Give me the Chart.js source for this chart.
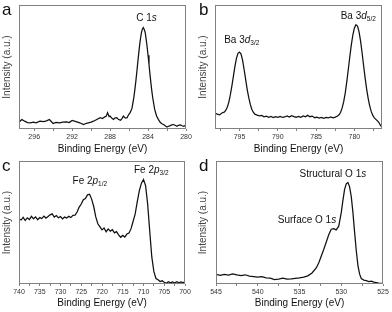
<!DOCTYPE html>
<html><head><meta charset="utf-8">
<script src="https://cdn.jsdelivr.net/npm/chart.js@4/dist/chart.umd.min.js"></script>
<style>
html,body{margin:0;padding:0;background:#fff;width:392px;height:312px;overflow:hidden}
.p{position:absolute;width:196px;height:156px}
.p canvas{display:block}
.lab{position:absolute;font-family:"Liberation Sans",Arial,sans-serif;font-size:17px;color:#111;line-height:1}
</style></head><body>
<div class="p" style="left:0;top:0"><canvas id="ca" width="196" height="156"></canvas></div>
<div class="p" style="left:196px;top:0"><canvas id="cb" width="196" height="156"></canvas></div>
<div class="p" style="left:0;top:156px"><canvas id="cc" width="196" height="156"></canvas></div>
<div class="p" style="left:196px;top:156px"><canvas id="cd" width="196" height="156"></canvas></div>
<div class="lab" style="left:2px;top:1px">a</div>
<div class="lab" style="left:199px;top:1px">b</div>
<div class="lab" style="left:2px;top:157px">c</div>
<div class="lab" style="left:199px;top:157px">d</div>
<script>
// ---- Panel a: C 1s ----
const aEnergy = [297.6,297.3,297.0,296.7,296.4,296.1,295.8,295.4,295.0,294.7,294.4,294.0,293.7,293.3,293.0,292.6,292.3,292.0,291.5,291.2,290.8,290.5,290.3,290.0,289.75,289.4,289.05,288.8,288.6,288.4,288.27,288.1,288.0,287.8,287.64,287.5,287.3,287.1,286.9,286.75,286.6,286.4,286.2,286.06,285.9,285.7,285.5,285.4,285.3,285.2,285.1,285.0,284.9,284.8,284.7,284.6,284.5,284.4,284.3,284.2,284.1,284.0,283.9,283.8,283.7,283.6,283.5,283.3,283.1,282.9,282.7,282.5,282.36,282.2,282.0,281.8,281.65,281.5,281.3,281.1,280.95,280.8,280.6,280.4,280.25,280.1,280.0];
const aIntensity = [5.5,7.7,6.3,5.2,4.9,5.5,5.0,6.3,6.0,6.6,7.7,4.4,5.3,4.9,5.6,5.8,5.2,6.9,5.8,5.0,3.6,4.6,4.9,5.6,6.3,7.7,9.1,8.4,9.6,10.4,13.2,10.0,10.4,8.6,7.7,8.8,9.1,7.6,7.1,8.4,10.4,8.8,9.1,11.5,13.0,16.4,25.3,31.1,37.6,44.8,52.3,59.8,66.8,72.8,77.5,80.5,81.8,80.2,77.8,72.5,66.5,59.5,52.0,44.5,37.2,30.5,24.8,15.8,10.5,7.6,5.2,4.0,3.6,2.6,1.6,2.4,2.7,3.4,3.6,2.8,2.2,3.0,3.3,2.6,2.2,2.8,1.6];
const aTicks = [296,292,288,284,280];

// ---- Panel b: Ba 3d ----
const bEnergy = [798.2,797.9,797.6,797.3,797.0,796.8,796.6,796.4,796.2,796.0,795.8,795.6,795.4,795.2,795.0,794.8,794.6,794.4,794.2,794.0,793.8,793.6,793.4,793.2,793.0,792.7,792.4,792.1,791.8,791.5,791.2,790.9,790.6,790.3,790.0,789.7,789.4,789.1,788.8,788.5,788.2,787.9,787.6,787.3,787.0,786.7,786.4,786.1,785.8,785.5,785.2,784.9,784.6,784.3,784.0,783.7,783.4,783.1,782.8,782.5,782.2,782.0,781.8,781.6,781.4,781.2,781.0,780.8,780.6,780.4,780.2,780.0,779.8,779.6,779.4,779.2,779.0,778.8,778.6,778.4,778.2,778.0,777.8,777.6,777.4,777.2,777.0,776.8,776.6,776.4];
const bIntensity = [12.8,12.0,11.4,12.9,13.6,15.0,17.5,21.5,27.5,34.5,42.5,50.5,57.0,61.0,62.0,60.5,55.5,48.0,40.0,32.0,25.5,20.0,16.0,13.5,12.0,11.2,10.6,10.9,9.8,10.3,9.5,10.1,9.2,9.9,9.4,10.2,9.3,9.7,10.5,9.6,10.8,10.0,9.5,10.2,9.4,10.6,9.8,11.0,9.9,10.4,9.1,9.6,8.8,9.4,8.6,9.3,8.9,9.8,9.0,9.6,10.5,11.5,13.5,17.0,22.0,29.0,38.0,48.0,58.5,68.0,76.0,81.5,84.0,83.0,78.5,71.0,61.5,51.0,41.0,32.0,24.5,18.5,14.0,11.0,9.0,7.8,6.5,5.2,3.0,1.5];
const bTicks = [795,790,785,780];

// ---- Panel c: Fe 2p ----
const cEnergy = [740.0,739.5,739.0,738.5,738.0,737.5,737.0,736.5,736.0,735.5,735.0,734.5,734.0,733.5,733.0,732.5,732.0,731.5,731.0,730.5,730.0,729.5,729.0,728.5,728.0,727.5,727.0,726.5,726.0,725.5,725.0,724.5,724.0,723.5,723.0,722.5,722.0,721.5,721.0,720.5,720.0,719.5,719.0,718.5,718.0,717.5,717.0,716.5,716.0,715.5,715.0,714.5,714.0,713.5,713.0,712.5,712.0,711.5,711.0,710.5,710.0,709.5,709.0,708.5,708.0,707.5,707.0,706.5,706.0,705.5,705.0,704.5,704.0,703.5,703.0,702.5,702.0,701.5,701.0,700.5,700.0];
const cIntensity = [53.0,52.0,54.2,51.6,53.8,52.4,55.0,53.0,54.6,52.2,54.0,53.2,55.2,53.6,54.8,56.2,57.0,54.4,55.6,53.8,54.8,53.0,54.4,53.6,55.0,54.0,55.8,56.0,58.5,62.5,65.0,68.5,69.5,72.5,73.0,69.0,63.0,54.5,49.0,46.5,44.0,45.5,42.5,44.8,43.0,44.2,41.6,42.6,40.0,38.0,39.5,38.2,40.6,41.5,45.0,51.0,57.0,67.0,76.0,82.0,85.0,80.0,65.0,43.0,22.0,10.0,4.5,3.5,2.0,2.6,1.4,0.6,1.8,0.9,1.6,0.8,1.9,1.0,1.7,1.1,1.5];
const cTicks = [740,735,730,725,720,715,710,705,700];

// ---- Panel d: O 1s ----
const dEnergy = [545.0,544.5,544.0,543.5,543.0,542.5,542.0,541.5,541.0,540.5,540.0,539.5,539.0,538.5,538.0,537.5,537.0,536.5,536.0,535.5,535.0,534.5,534.0,533.5,533.0,532.7,532.4,532.1,531.8,531.5,531.2,530.9,530.6,530.3,530.0,529.8,529.6,529.4,529.2,529.0,528.8,528.6,528.4,528.2,528.0,527.8,527.6,527.3,527.0,526.7,526.4,526.1,525.8,525.5,525.2,525.0];
const dIntensity = [7.8,7.0,7.9,7.2,8.3,7.4,6.8,7.5,6.4,6.0,5.6,5.9,5.0,4.8,3.6,4.0,4.8,4.0,4.2,4.6,5.0,5.6,6.6,9.0,13.0,17.0,22.5,28.0,34.0,40.0,44.5,45.0,44.0,47.0,58.0,68.0,77.0,81.5,82.5,79.0,71.0,58.0,42.0,27.0,15.0,8.0,4.5,3.2,2.8,2.0,2.4,1.6,1.2,0.8,0.5,0.3];
const dTicks = [545,540,535,530,525];

const FAM = '"Liberation Sans", Arial, sans-serif';

function makePanel(id, xs, ys, ticks, cfg, notes){
  const boxPlugin = {
    id: 'box' + id,
    afterDraw(chart){
      const {ctx, chartArea: a} = chart;
      ctx.save();
      ctx.strokeStyle = '#808080'; ctx.lineWidth = 1;
      ctx.strokeRect(Math.round(a.left)+0.5, Math.round(a.top)+0.5, Math.round(a.right-a.left)-1, Math.round(a.bottom-a.top)-1);
      ctx.restore();
      const xsS = chart.scales.x, ysS = chart.scales.y;
      ctx.save();
      ctx.fillStyle = '#111';
      ctx.textBaseline = 'alphabetic';
      for (const n of notes){
        let px = xsS.getPixelForValue(n.x);
        const py = ysS.getPixelForValue(n.y) + 3.5;
        for (const [t, k] of n.parts){
          const size = k === 'sub' ? 6.5 : 10;
          const style = k === 'it' ? 'italic ' : '';
          ctx.font = style + size + 'px ' + FAM;
          ctx.fillText(t, px, k === 'sub' ? py + 2 : py);
          px += ctx.measureText(t).width;
        }
      }
      ctx.restore();
    }
  };
  return new Chart(document.getElementById(id), {
    type: 'line',
    data: { datasets: [{ data: xs.map((x, i) => ({x: x, y: ys[i]})), borderColor: '#111', borderWidth: 1.25, pointRadius: 0, tension: 0, fill: false }] },
    options: {
      responsive: false, animation: false, devicePixelRatio: 1,
      layout: { padding: { top: cfg.top, right: cfg.right, left: 0, bottom: 0 } },
      plugins: { legend: { display: false }, tooltip: { enabled: false } },
      scales: {
        x: {
          type: 'linear', reverse: true, min: cfg.min, max: cfg.max,
          ticks: { stepSize: cfg.step, includeBounds: false, autoSkip: false, maxRotation: 0, minRotation: 0,
            font: { size: 7, family: FAM }, color: '#333', padding: cfg.tpad,
            callback: (v) => ticks.some(t => Math.abs(t - v) < 1e-6) ? String(v) : '' },
          grid: { display: true, drawOnChartArea: false, drawTicks: true, tickLength: 2, color: '#808080' },
          border: { display: false },
          title: { display: true, text: 'Binding Energy (eV)', font: { size: 10, family: FAM }, color: '#111', padding: { top: 0, bottom: cfg.titlePad } },
          afterFit(s){ s.height = cfg.xh; }
        },
        y: {
          min: 0, max: 100,
          ticks: { display: false },
          grid: { display: false },
          border: { display: false },
          title: { display: true, text: 'Intensity (a.u.)', font: { size: 10, family: FAM }, color: '#444', padding: { top: 1, bottom: 0 } },
          afterFit(s){ s.width = cfg.left; }
        }
      }
    },
    plugins: [boxPlugin]
  });
}

makePanel('ca', aEnergy, aIntensity, aTicks, {min: 280, max: 297.6, step: 2, top: 5, right: 10, left: 19, xh: 27, tpad: 1.5, titlePad: 1},
  [{x: 285.25, y: 90, parts: [['C 1', 'n'], ['s', 'it']]}]);
makePanel('cb', bEnergy, bIntensity, bTicks, {min: 776.4, max: 798.2, step: 2.5, top: 5, right: 10, left: 19, xh: 27, tpad: 1.5, titlePad: 1},
  [{x: 797.0, y: 72, parts: [['Ba 3', 'n'], ['d', 'it'], ['3/2', 'sub']]},
   {x: 781.8, y: 91.4, parts: [['Ba 3', 'n'], ['d', 'it'], ['5/2', 'sub']]}]);
makePanel('cc', cEnergy, cIntensity, cTicks, {min: 700, max: 740, step: 2.5, top: 5, right: 11, left: 19, xh: 28, tpad: 2, titlePad: 3},
  [{x: 727.1, y: 84, parts: [['Fe 2', 'n'], ['p', 'it'], ['1/2', 'sub']]},
   {x: 712.3, y: 92.8, parts: [['Fe 2', 'n'], ['p', 'it'], ['3/2', 'sub']]}]);
makePanel('cd', dEnergy, dIntensity, dTicks, {min: 525, max: 545, step: 2.5, top: 5, right: 9, left: 20, xh: 28, tpad: 2, titlePad: 3},
  [{x: 535.0, y: 90, parts: [['Structural O 1', 'n'], ['s', 'it']]},
   {x: 537.6, y: 52.2, parts: [['Surface O 1', 'n'], ['s', 'it']]}]);
</script>
</body></html>
